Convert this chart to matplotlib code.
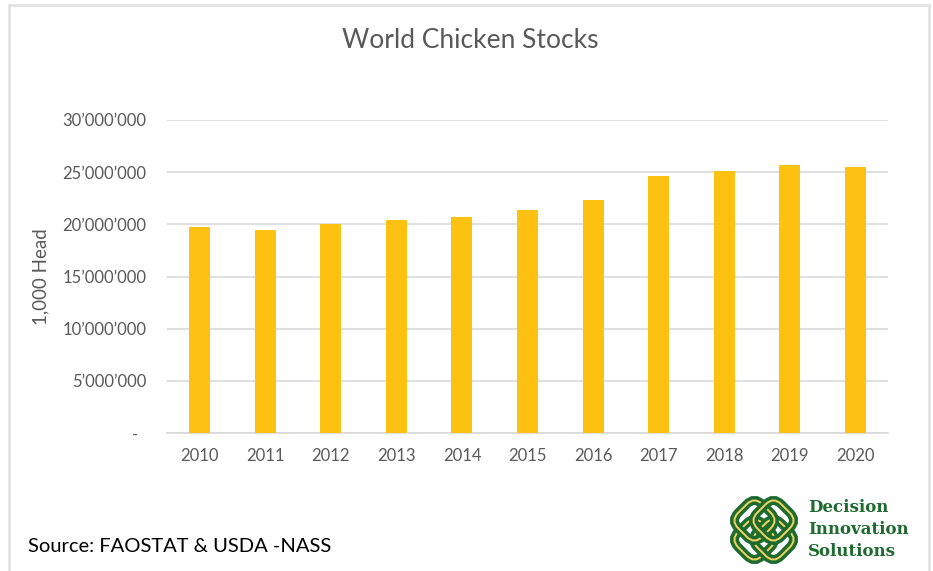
import matplotlib
matplotlib.use("Agg")
import matplotlib.pyplot as plt
from matplotlib.patches import FancyBboxPatch, Rectangle
import matplotlib.transforms as mtransforms
import numpy as np

plt.rcParams['font.family'] = ['Lato', 'DejaVu Sans']

# data (1,000 head)
years = ['2010', '2011', '2012', '2013', '2014', '2015',
         '2016', '2017', '2018', '2019', '2020']
stocks = [19.74e6, 19.46e6, 20.0e6, 20.46e6, 20.7e6, 21.42e6,
          22.29e6, 24.63e6, 25.14e6, 25.69e6, 25.53e6]
yticks = [0, 5e6, 10e6, 15e6, 20e6, 25e6, 30e6]
ytick_labels = ['-  ', '5\u2019000\u2019000', '10\u2019000\u2019000', '15\u2019000\u2019000',
                '20\u2019000\u2019000', '25\u2019000\u2019000', '30\u2019000\u2019000']

grey = '#595959'
bar_col = '#FCC111'

fig = plt.figure(figsize=(9.33, 5.71), dpi=100)

# outer light frame of the chart
frame = Rectangle((9 / 933, -0.05), (929 - 9) / 933, 1.05 - 5 / 571,
                  transform=fig.transFigure, fill=False,
                  edgecolor='#e2e2e2', lw=2)
fig.patches.append(frame)

ax = fig.add_axes([167 / 933, 1 - 433 / 571, (888 - 167) / 933, (433 - 120) / 571])
x = np.arange(len(years))
ax.bar(x, stocks, width=0.32, color=bar_col, zorder=3)
ax.set_xlim(-0.5, len(years) - 0.5)
ax.set_ylim(0, 30e6)
ax.set_yticks(yticks)
ax.set_yticklabels(ytick_labels)
ax.set_xticks(x)
ax.set_xticklabels(years)
ax.grid(axis='y', color='#d9d9d9', lw=1.2, zorder=0)
for s in ['top', 'right', 'left']:
    ax.spines[s].set_visible(False)
ax.spines['bottom'].set_color('#d9d9d9')
ax.spines['bottom'].set_linewidth(1.2)
ax.tick_params(axis='both', length=0, colors=grey, labelsize=12)
ax.tick_params(axis='y', pad=15)
ax.tick_params(axis='x', pad=11)
ax.set_ylabel('1,000 Head', color=grey, fontsize=13.5, labelpad=9)

fig.text(470 / 933, 1 - 40 / 571, 'World Chicken Stocks', ha='center', va='center',
         fontsize=19, color=grey)
fig.text(28 / 933, 1 - 547 / 571, 'Source: FAOSTAT & USDA -NASS', ha='left', va='center',
         fontsize=14.5, color='black')

# logo: interlaced knot + company name
green = '#1e6b30'
yellow = '#f2d45c'
lx, ly = 764, 530  # centre of knot in pixels
for dx, dy in [(-1, -1), (1, -1), (-1, 1), (1, 1)]:
    cx, cy = lx + dx * 9.5, 571 - ly + dy * 9.5
    rot = mtransforms.Affine2D().rotate_deg_around(cx, cy, 45)
    box = FancyBboxPatch((cx - 17, cy - 17), 34, 34,
                         boxstyle='round,pad=0,rounding_size=11',
                         fill=False, edgecolor=green, lw=6.5, transform=rot)
    fig.patches.append(box)
    inner = FancyBboxPatch((cx - 17, cy - 17), 34, 34,
                           boxstyle='round,pad=0,rounding_size=11',
                           fill=False, edgecolor=yellow, lw=1.4, transform=rot)
    fig.patches.append(inner)

for txt, yy in [('Decision', 508), ('Innovation', 530), ('Solutions', 552)]:
    fig.text(808 / 933, 1 - yy / 571, txt, fontsize=12, color=green,
             family='DejaVu Serif', weight='bold', va='center')

fig.savefig('out.png', dpi=100)
